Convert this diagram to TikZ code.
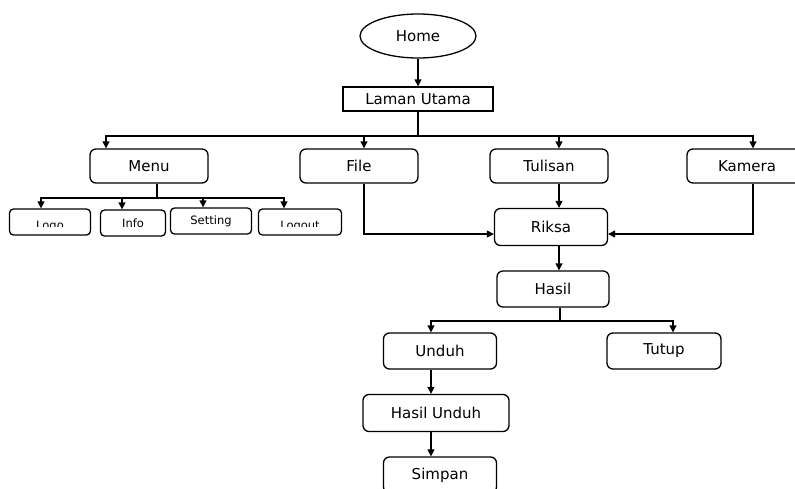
\documentclass[tikz,border=0pt]{standalone}
\usepackage{fontspec}
\setmainfont{DejaVu Sans}
\usetikzlibrary{arrows.meta,shapes.geometric}
\begin{document}
\begin{tikzpicture}[x=1pt,y=-1pt,
  line width=1.3pt,
  arr/.style={-{Triangle[length=7pt,width=7pt]}},
  bigfont/.style={font=\fontsize{15}{17}\selectfont},
  smallfont/.style={font=\fontsize{11.5}{13}\selectfont},
  rbox/.style={draw,rounded corners=6pt,minimum width=118pt,minimum height=34pt,inner sep=0pt,bigfont},
  sbox/.style={draw,rounded corners=4pt,minimum height=26pt,inner sep=0pt,smallfont},
  every node/.style={line width=1.3pt}]
\clip (0,0) rectangle (795,488);
\fill[white] (0,0) rectangle (795,488);
% top
\node[draw,ellipse,minimum width=116pt,minimum height=44pt,inner sep=0pt,bigfont] (home) at (418,36) {Home};
\node[draw,minimum width=150pt,minimum height=24pt,inner sep=0pt,bigfont] (laman) at (418,99) {Laman Utama};
% second row
\node[rbox] (menu) at (149,166) {Menu};
\node[rbox] (file) at (359,166) {File};
\node[rbox] (tulisan) at (549,166) {Tulisan};
\node[rbox,minimum width=120pt] (kamera) at (747,166) {Kamera};
% menu children
\node[sbox,minimum width=81pt,path picture={
  \clip ([yshift=4pt]path picture bounding box.north west) rectangle ([yshift=-4pt]path picture bounding box.east);
  \node[smallfont] at ([yshift=-4pt]path picture bounding box.center) {Logo};}] (logo) at (50,222) {};
\node[sbox,minimum width=65pt] (info) at (133,223) {Info};
\node[sbox,minimum width=81pt] (setting) at (211,221) {\raisebox{2pt}{Setting}};
\node[sbox,minimum width=83pt,path picture={
  \clip ([yshift=4pt]path picture bounding box.north west) rectangle ([yshift=-4pt]path picture bounding box.east);
  \node[smallfont] at ([yshift=-4pt]path picture bounding box.center) {Logout};}] (logout) at (300,222) {};
% lower chain
\node[rbox,minimum width=113pt,minimum height=37pt] (riksa) at (551,227) {Riksa};
\node[rbox,minimum width=112pt,minimum height=36pt] (hasil) at (553,289) {Hasil};
\node[rbox,minimum width=113pt,minimum height=36pt] (unduh) at (440,351) {Unduh};
\node[rbox,minimum width=114pt,minimum height=36pt] (tutup) at (664,351) {Tutup};
\node[rbox,minimum width=146pt,minimum height=37pt] (hunduh) at (436,413) {Hasil Unduh};
\node[rbox,minimum width=113pt,minimum height=36pt] (simpan) at (440,475) {\raisebox{3pt}{Simpan}};
% helper coordinates
\coordinate (bar) at (418,136);
\coordinate (xM) at (106,0);
\coordinate (xF) at (364,0);
\coordinate (xT) at (559,0);
\coordinate (xK) at (753,0);
\coordinate (ms) at (157,198);
\coordinate (xL) at (41,0);
\coordinate (xI) at (122,0);
\coordinate (xS) at (203,0);
\coordinate (xO) at (284,0);
\coordinate (rk) at (0,234);
\coordinate (hb) at (560,321);
\coordinate (xU) at (431,0);
\coordinate (xP) at (673,0);
% connectors
\draw[arr] (home) -- (laman);
\draw (laman.south) -- (bar);
\draw[arr] (bar) -| (menu.north -| xM);
\draw[arr] (bar) -| (file.north -| xF);
\draw[arr] (bar) -| (tulisan.north -| xT);
\draw[arr] (bar) -| (kamera.north -| xK);
\draw (menu.south -| ms) -- (ms);
\draw[arr] (ms) -| (logo.north -| xL);
\draw[arr] (ms) -| (info.north -| xI);
\draw[arr] (ms) -| (setting.north -| xS);
\draw[arr] (ms) -| (logout.north -| xO);
\draw[arr] (file.south -| xF) |- (riksa.west |- rk);
\draw[arr] (kamera.south -| xK) |- (riksa.east |- rk);
\draw[arr] (tulisan.south -| xT) -- (riksa.north -| xT);
\draw[arr] (riksa.south -| xT) -- (hasil.north -| xT);
\draw (hasil.south -| hb) -- (hb);
\draw[arr] (hb) -| (unduh.north -| xU);
\draw[arr] (hb) -| (tutup.north -| xP);
\draw[arr] (unduh.south -| xU) -- (hunduh.north -| xU);
\draw[arr] (hunduh.south -| xU) -- (simpan.north -| xU);
\end{tikzpicture}
\end{document}
